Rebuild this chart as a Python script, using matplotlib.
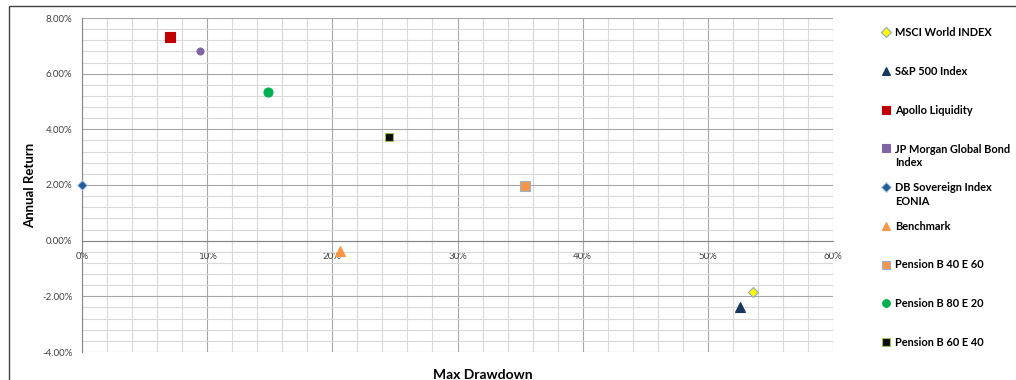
import matplotlib
matplotlib.use("Agg")
import matplotlib.pyplot as plt
from matplotlib.lines import Line2D
from matplotlib.patches import Rectangle
from matplotlib.ticker import MultipleLocator, FuncFormatter

plt.rcParams['font.family'] = ['Lato', 'DejaVu Sans']

names = ["MSCI World INDEX", "S&P 500 Index", "Apollo Liquidity",
         "JP Morgan Global Bond\nIndex", "DB Sovereign Index\nEONIA", "Benchmark",
         "Pension B 40 E 60", "Pension B 80 E 20", "Pension B 60 E 40"]
max_drawdown = [53.6, 52.6, 7.0, 9.4, 0.0, 20.6, 35.4, 14.9, 24.5]   # %
annual_return = [-1.83, -2.40, 7.31, 6.81, 2.00, -0.36, 1.97, 5.34, 3.73]  # %

face_colors = ["#FFFF00", "#17375E", "#C00000", "#8064A2", "#1F5C99",
               "#F79646", "#F79646", "#00B050", "#0D0D0D"]
edge_colors = ["#8EA9C1", "#17375E", "#C00000", "#8064A2", "#B7CDE3",
               "#F79646", "#95B3D7", "#00B050", "#9BBB59"]
plot_markers = ["D", "^", "s", "o", "D", "^", "s", "o", "s"]
legend_markers = ["D", "^", "s", "s", "D", "^", "s", "o", "s"]
plot_sizes = [5.5, 7, 7.5, 5, 5.5, 7, 7, 6.5, 6]

W, H = 1016, 380
fig = plt.figure(figsize=(W / 100, H / 100), dpi=100)
ax = fig.add_axes([82 / W, 1 - 352 / H, (833 - 82) / W, (352 - 18) / H])

for x, y, fc, ec, m, s in zip(max_drawdown, annual_return, face_colors,
                              edge_colors, plot_markers, plot_sizes):
    ax.plot([x], [y], linestyle="none", marker=m, markersize=s,
            markerfacecolor=fc, markeredgecolor=ec, markeredgewidth=0.8,
            zorder=5, clip_on=False)

ax.set_xlim(0, 60)
ax.set_ylim(-4, 8)
ax.xaxis.set_major_locator(MultipleLocator(10))
ax.xaxis.set_minor_locator(MultipleLocator(2))
ax.yaxis.set_major_locator(MultipleLocator(2))
ax.yaxis.set_minor_locator(MultipleLocator(0.4))
ax.xaxis.set_major_formatter(FuncFormatter(lambda v, p: f"{v:.0f}%"))
ax.yaxis.set_major_formatter(FuncFormatter(lambda v, p: f"{v:.2f}%"))
ax.grid(which="major", color="#A6A6A6", linewidth=0.8)
ax.grid(which="minor", color="#D9D9D9", linewidth=0.8)
ax.set_axisbelow(True)

for sp in ["top", "right"]:
    ax.spines[sp].set_visible(False)
ax.spines["bottom"].set_position(("data", 0))
ax.spines["bottom"].set_color("#868686")
ax.spines["left"].set_color("#868686")
ax.tick_params(which="both", length=0, labelsize=7, colors="#404040")
ax.tick_params(axis="x", pad=8)
ax.tick_params(axis="y", pad=7)

fig.text(30 / W, 1 - 185 / H, "Annual Return", rotation=90, ha="center",
         va="center", fontsize=9.5, fontweight="bold")
fig.text(483 / W, 1 - 375 / H, "Max Drawdown", ha="center", va="center",
         fontsize=10, fontweight="bold")

# legend: entries equally spaced, key aligned with the first text line
leg_top, leg_step = 32, 38.75
leg_fs, leg_ls = 7.9, 1.25
line_px = leg_fs * leg_ls * 100 / 72
for i, (name, m, fc, ec) in enumerate(zip(names, legend_markers,
                                          face_colors, edge_colors)):
    yp = leg_top + i * leg_step
    nlines = name.count("\n") + 1
    fig.add_artist(Line2D([886 / W], [1 - yp / H], transform=fig.transFigure,
                          linestyle="none", marker=m, markersize=5.5,
                          markerfacecolor=fc, markeredgecolor=ec,
                          markeredgewidth=0.8))
    fig.text(895 / W, 1 - (yp + 4 + (nlines - 1) * line_px) / H, name,
             ha="left", va="baseline", fontsize=leg_fs, fontweight="bold",
             linespacing=leg_ls)

fig.add_artist(Rectangle((9 / W, -0.1), 1.1, 1 - 6 / H + 0.1,
                         transform=fig.transFigure, fill=False,
                         edgecolor="#404040", linewidth=1))

fig.savefig("out.png", dpi=100)
